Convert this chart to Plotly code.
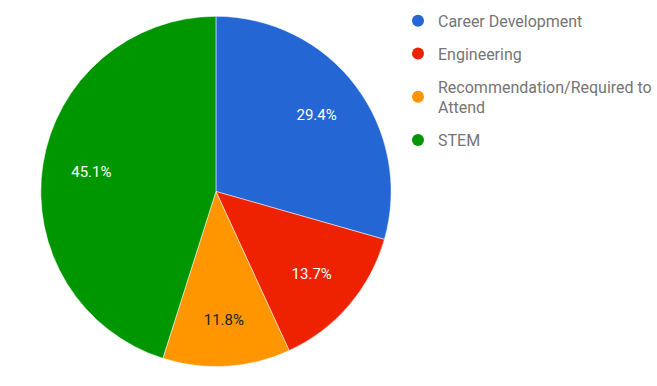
import plotly.graph_objects as go

categories = ["Career Development", "Engineering", "Recommendation/Required to<br>Attend", "STEM"]
values = [15, 7, 6, 23]
colors = ["#2366d4", "#ee2200", "#ff9600", "#009600"]
text_colors = ["white", "white", "#222222", "white"]

dom = dict(x=[0.0624, 0.598], y=[0.04, 0.968])

fig = go.Figure()
# coloured slices
fig.add_trace(go.Pie(
    labels=categories, values=values, sort=False, direction="clockwise", rotation=0,
    marker=dict(colors=colors, line=dict(color="white", width=0.5)),
    textinfo="none", showlegend=False, hoverinfo="label+percent", domain=dom,
))
# transparent ring overlay that carries the percentage labels further out
fig.add_trace(go.Pie(
    labels=categories, values=values, sort=False, direction="clockwise", rotation=0,
    hole=0.44,
    marker=dict(colors=["rgba(0,0,0,0)"] * len(values), line=dict(width=0)),
    texttemplate="%{percent:.1%}", textposition="inside", insidetextorientation="horizontal",
    textfont=dict(family="Roboto", size=15, color=text_colors),
    showlegend=False, hoverinfo="skip", domain=dom,
))
for name, c in zip(categories, colors):
    fig.add_trace(go.Scatter(x=[None], y=[None], mode="markers", name=name, legendgroup=name,
                             marker=dict(symbol="circle", size=13, color=c), showlegend=True))

fig.update_layout(
    width=657, height=386, margin=dict(l=0, r=0, t=0, b=0),
    paper_bgcolor="white", plot_bgcolor="white",
    xaxis=dict(visible=False), yaxis=dict(visible=False),
    legend=dict(x=400 / 657, y=0.99, xanchor="left", yanchor="top", traceorder="grouped",
                tracegroupgap=9, font=dict(family="Roboto", size=16, color="#757575"),
                itemsizing="constant"),
)
fig.write_html("out.html")
